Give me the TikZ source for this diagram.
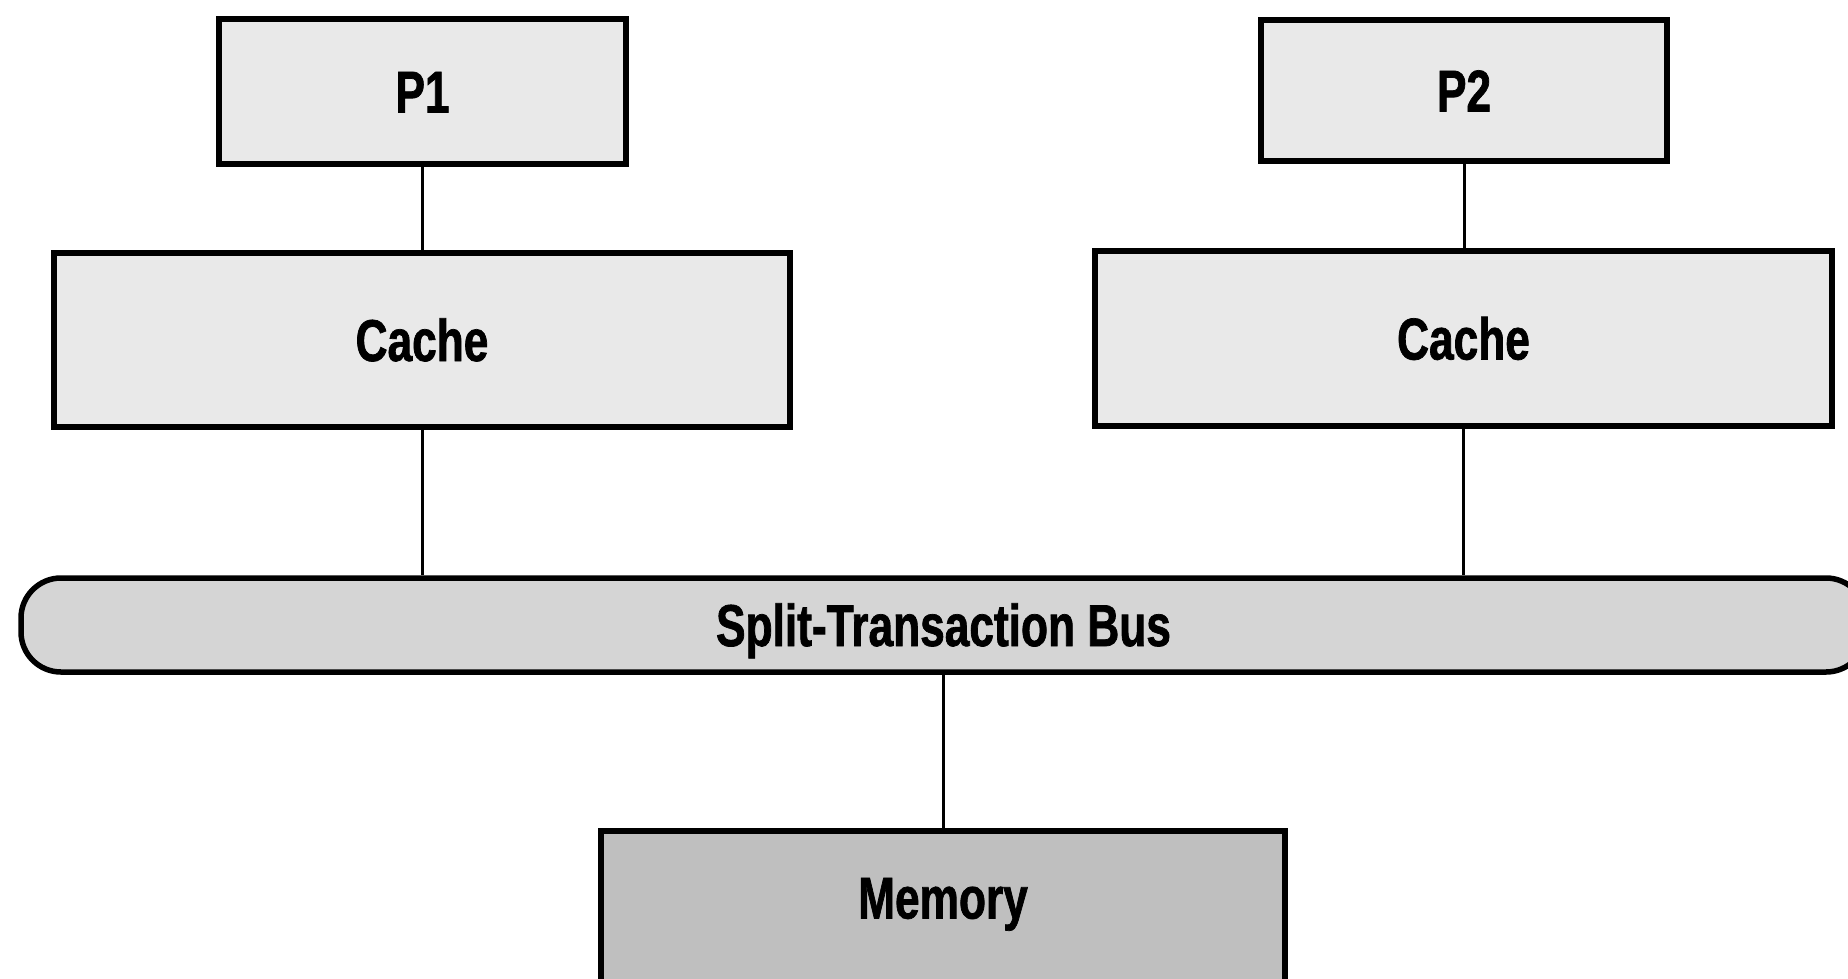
\documentclass[tikz,border=0pt]{standalone}
\usepackage{fontspec}
\setmainfont{Liberation Sans}[FakeStretch=0.76]
\newfontfamily\labelfont{Liberation Sans Bold}[FakeStretch=0.75, FakeBold=1.2]
\begin{document}
\begin{tikzpicture}[x=1pt,y=-1pt,
  lbl/.style={font=\fontsize{59}{62}\labelfont, text height=42pt, text depth=0pt},
  box/.style={draw=black, line width=5.5pt, fill=#1, inner sep=0pt, lbl},
  link/.style={draw=black, line width=3pt}]
\useasboundingbox (0,0) rectangle (1848,978);
\clip (0,0) rectangle (1848,978);
\definecolor{light}{RGB}{233,233,233}
\definecolor{busgray}{RGB}{213,213,213}
\definecolor{memgray}{RGB}{191,191,191}
% processors
\node[box=light, minimum width=407pt, minimum height=145pt] (p1) at (422.5,91.5) {P1};
\node[box=light, minimum width=406pt, minimum height=141pt] (p2) at (1464,90.5) {P2};
% caches
\node[box=light, minimum width=736pt, minimum height=174pt] (c1) at (422,340) {Cache};
\node[box=light, minimum width=737pt, minimum height=175pt] (c2) at (1463.5,338.5) {Cache};
% bus
\node[box=busgray, rounded corners=40pt, minimum width=1845pt, minimum height=94pt] (bus) at (943.5,625) {Split-Transaction Bus};
% memory
\node[box=memgray, minimum width=684pt, minimum height=180pt, anchor=north] (mem) at (943,828) {};
\node[lbl, inner sep=0pt] (memtext) at (943,897.5) {Memory};
% connectors
\draw[link] (p1.south) -- (p1.south |- c1.north);
\draw[link] (p2.south) -- (p2.south |- c2.north);
\draw[link] (c1.south) -- (c1.south |- bus.north);
\draw[link] (c2.south) -- (c2.south |- bus.north);
\draw[link] (bus.south -| mem.north) -- (mem.north);
\end{tikzpicture}
\end{document}
